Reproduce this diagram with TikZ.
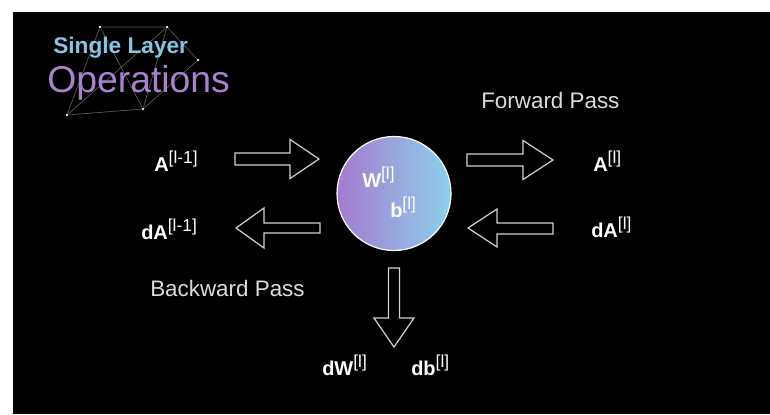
\documentclass[tikz,border=0pt]{standalone}
\usepackage{fontspec}
\setmainfont{Liberation Sans}
\definecolor{titleblue}{HTML}{86C5E6}
\definecolor{titlepurple}{HTML}{A882CC}
\definecolor{passgray}{HTML}{DCDCDC}
\definecolor{arrowgray}{HTML}{D2D2D2}
\definecolor{netgray}{HTML}{5A5A5A}
\definecolor{ballleft}{HTML}{A47BD0}
\definecolor{ballright}{HTML}{8DD0EA}
\newcommand{\lsup}[1]{\raisebox{5.5pt}{\fontsize{13pt}{13pt}\selectfont\mdseries #1}}
\tikzset{
  lbl/.style={anchor=base west, inner sep=0pt, text=white, font=\fontsize{15pt}{15pt}\selectfont\bfseries},
  passlbl/.style={anchor=base west, inner sep=0pt, text=passgray, font=\fontsize{16.8pt}{16.8pt}\selectfont},
  blockarrow/.style={draw=arrowgray, line width=0.9pt, line join=miter},
  netline/.style={draw=netgray, line width=0.5pt},
  netdot/.style={circle, fill=white!90!gray, inner sep=0pt, minimum size=2.2pt}
}
\begin{document}
\begin{tikzpicture}[x=0.75pt,y=-0.75pt]
\useasboundingbox (0,0) rectangle (770,414);
\fill[white] (0,0) rectangle (770,414);
\fill[black] (13,12) rectangle (770,414);

% constellation
\node[netdot] (p1) at (100,27) {};
\node[netdot] (p2) at (167,27) {};
\node[netdot] (p3) at (198,60) {};
\node[netdot] (p4) at (143,109) {};
\node[netdot] (p5) at (67,115) {};
\draw[netline] (p1) -- (p2) -- (p3) -- (p4) -- (p5) -- (p1);
\draw[netline] (p1) -- (p4);
\draw[netline] (p2) -- (p4);
\draw[netline] (p5) -- (p2);

% title
\node[anchor=base west, inner sep=0pt, text=titleblue, font=\fontsize{17pt}{17pt}\selectfont\bfseries] (t1) at (53,53) {Single Layer};
\node[anchor=base west, inner sep=0pt, text=titlepurple, font=\fontsize{28pt}{28pt}\selectfont] (t2) at (47,92) {Operations};

% central ball
\node[circle, draw=white, line width=0.9pt, left color=ballleft, right color=ballright, minimum size=85.5pt, inner sep=0pt] (core) at (394,193.5) {};
\node[lbl] (W) at (362,187) {W\lsup{[l]}};
\node[lbl] (b) at (390,217) {b\lsup{[l]}};

% labels
\node[lbl] (Ain) at (154,171) {A\lsup{[l-1]}};
\node[lbl] (dAin) at (141,239) {dA\lsup{[l-1]}};
\node[lbl] (Aout) at (593,171) {A\lsup{[l]}};
\node[lbl] (dAout) at (591,237) {dA\lsup{[l]}};
\node[lbl] (dW) at (322,375) {dW\lsup{[l]}};
\node[lbl] (db) at (411,375) {db\lsup{[l]}};
\node[passlbl] (fwd) at (481,108) {Forward Pass};
\node[passlbl] (bwd) at (150,296) {Backward Pass};

% block arrows
\draw[blockarrow] (235,153)--(290,153)--(290,139.5)--(319,159)--(290,178.5)--(290,165)--(235,165)--cycle;
\draw[blockarrow] (320,223)--(264,223)--(264,208)--(236,228)--(264,248)--(264,233)--(320,233)--cycle;
\draw[blockarrow] (467,154)--(523,154)--(523,140.5)--(553,160)--(523,179.5)--(523,166)--(467,166)--cycle;
\draw[blockarrow] (553,223)--(497,223)--(497,209)--(468,228)--(497,247)--(497,234)--(553,234)--cycle;
\draw[blockarrow] (388.5,268)--(399.5,268)--(399.5,318)--(414,318)--(394,347)--(374,318)--(388.5,318)--cycle;
\end{tikzpicture}
\end{document}
